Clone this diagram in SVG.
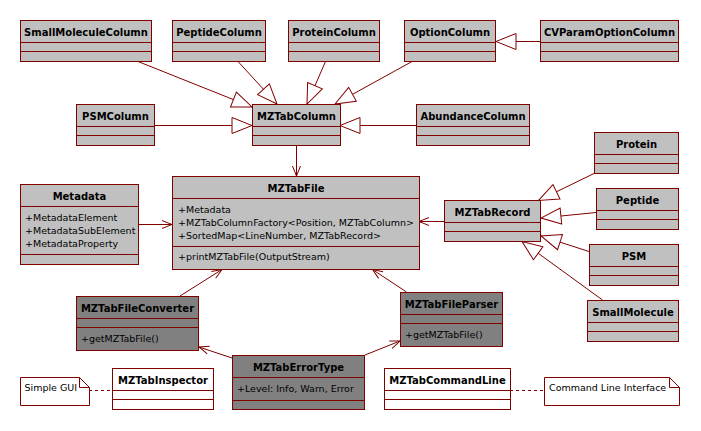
<svg xmlns="http://www.w3.org/2000/svg" width="701" height="431" viewBox="0 0 701 431">
<style>
  .box { stroke: #800000; stroke-width: 1; }
  .lt { fill: #C0C0C0; }
  .dk { fill: #808080; }
  .wh { fill: #FFFFFF; }
  .sep { stroke: #800000; stroke-width: 1; fill: none; }
  .t { font-family: "DejaVu Sans", Verdana, sans-serif; font-weight: bold; font-size: 10px; fill: #000; text-anchor: middle; }
  .a { font-family: "DejaVu Sans", Verdana, sans-serif; font-size: 9.5px; fill: #000; }
  .c { stroke: #800000; stroke-width: 1; fill: none; }
  .gen { marker-end: url(#tri); }
  .dep { marker-end: url(#open); }
  .dash { stroke-dasharray: 3 3; }
</style>
<defs>
  <marker id="tri" markerUnits="userSpaceOnUse" markerWidth="24" markerHeight="20" viewBox="-2 -2 24 20" refX="20" refY="8" orient="auto">
    <path d="M0,0 L20,8 L0,16 Z" fill="#FFFFFF" stroke="#800000" stroke-width="1"/>
  </marker>
  <marker id="open" markerUnits="userSpaceOnUse" markerWidth="14" markerHeight="12" viewBox="-2 -2 14 12" refX="10" refY="4" orient="auto">
    <path d="M0,0 L10,4 L0,8" fill="none" stroke="#800000" stroke-width="1"/>
  </marker>
</defs>
<rect x="0" y="0" width="701" height="431" fill="#FFFFFF"/>

<g id="connectors">
  <path class="c gen" d="M138,61.5 L252,107"/>
  <path class="c gen" d="M238,61.5 L277,104"/>
  <path class="c gen" d="M325.5,61.5 L307,104"/>
  <path class="c gen" d="M412,61.5 L335,104"/>
  <path class="c gen" d="M540,41.5 L496,41.5"/>
  <path class="c gen" d="M154,125.5 L252,125.5"/>
  <path class="c gen" d="M416,125.5 L340,125.5"/>
  <path class="c dep" d="M296.5,145.5 L296.5,176"/>
  <path class="c dep" d="M138,224.5 L172,224.5"/>
  <path class="c dep" d="M444,221.5 L419,221.5"/>
  <path class="c gen" d="M594,173.5 L538.5,200.5"/>
  <path class="c gen" d="M596,212.5 L541,218"/>
  <path class="c gen" d="M589,251.5 L541,236"/>
  <path class="c gen" d="M602.5,300 L522,241.5"/>
  <path class="c dep" d="M180,296 L222,269.5"/>
  <path class="c dep" d="M406.5,292 L372.5,269.5"/>
  <path class="c dep" d="M232,358 L199,347"/>
  <path class="c dep" d="M365,355 L400,341"/>
  <path class="c dash" d="M89,390.5 L112,390.5"/>
  <path class="c dash" d="M510,390.5 L544,390.5"/>
</g>

<g id="SmallMoleculeColumn">
  <rect class="box lt" x="20.5" y="20.5" width="131" height="41"/>
  <path class="sep" d="M20.5,42.5 H151.5 M20.5,51.5 H151.5"/>
  <text class="t" x="86" y="35.5">SmallMoleculeColumn</text>
</g>
<g id="PeptideColumn">
  <rect class="box lt" x="172.5" y="20.5" width="93" height="41"/>
  <path class="sep" d="M172.5,42.5 H265.5 M172.5,51.5 H265.5"/>
  <text class="t" x="219" y="35.5">PeptideColumn</text>
</g>
<g id="ProteinColumn">
  <rect class="box lt" x="288.5" y="20.5" width="91" height="41"/>
  <path class="sep" d="M288.5,42.5 H379.5 M288.5,51.5 H379.5"/>
  <text class="t" x="334" y="35.5">ProteinColumn</text>
</g>
<g id="OptionColumn">
  <rect class="box lt" x="404.5" y="20.5" width="91" height="41"/>
  <path class="sep" d="M404.5,42.5 H495.5 M404.5,51.5 H495.5"/>
  <text class="t" x="450" y="35.5">OptionColumn</text>
</g>
<g id="CVParamOptionColumn">
  <rect class="box lt" x="540.5" y="20.5" width="138" height="41"/>
  <path class="sep" d="M540.5,42.5 H678.5 M540.5,51.5 H678.5"/>
  <text class="t" x="609.5" y="35.5">CVParamOptionColumn</text>
</g>
<g id="PSMColumn">
  <rect class="box lt" x="76.5" y="104.5" width="78" height="41"/>
  <path class="sep" d="M76.5,126.5 H154.5 M76.5,135.5 H154.5"/>
  <text class="t" x="115.5" y="119.5">PSMColumn</text>
</g>
<g id="MZTabColumn">
  <rect class="box lt" x="252.5" y="104.5" width="88" height="41"/>
  <path class="sep" d="M252.5,126.5 H340.5 M252.5,135.5 H340.5"/>
  <text class="t" x="296.5" y="119.5">MZTabColumn</text>
</g>
<g id="AbundanceColumn">
  <rect class="box lt" x="416.5" y="104.5" width="113" height="41"/>
  <path class="sep" d="M416.5,126.5 H529.5 M416.5,135.5 H529.5"/>
  <text class="t" x="473" y="119.5">AbundanceColumn</text>
</g>
<g id="Protein">
  <rect class="box lt" x="594.5" y="132.5" width="84" height="41"/>
  <path class="sep" d="M594.5,154.5 H678.5 M594.5,163.5 H678.5"/>
  <text class="t" x="636.5" y="147.5">Protein</text>
</g>
<g id="Peptide">
  <rect class="box lt" x="596.5" y="188.5" width="82" height="41"/>
  <path class="sep" d="M596.5,210.5 H678.5 M596.5,219.5 H678.5"/>
  <text class="t" x="637.5" y="203.5">Peptide</text>
</g>
<g id="PSM">
  <rect class="box lt" x="589.5" y="244.5" width="89" height="41"/>
  <path class="sep" d="M589.5,266.5 H678.5 M589.5,275.5 H678.5"/>
  <text class="t" x="634" y="259.5">PSM</text>
</g>
<g id="SmallMolecule">
  <rect class="box lt" x="587.5" y="300.5" width="91" height="41"/>
  <path class="sep" d="M587.5,322.5 H678.5 M587.5,331.5 H678.5"/>
  <text class="t" x="633" y="315.5">SmallMolecule</text>
</g>
<g id="MZTabRecord">
  <rect class="box lt" x="444.5" y="200.5" width="96" height="41"/>
  <path class="sep" d="M444.5,222.5 H540.5 M444.5,231.5 H540.5"/>
  <text class="t" x="492.5" y="215.5">MZTabRecord</text>
</g>
<g id="MZTabFile">
  <rect class="box lt" x="172.5" y="176.5" width="247" height="93"/>
  <path class="sep" d="M172.5,198.5 H419.5 M172.5,246.5 H419.5"/>
  <text class="t" x="296" y="191.5">MZTabFile</text>
  <text class="a" x="178" y="212.5">+Metadata</text>
  <text class="a" x="178" y="225.5">+MZTabColumnFactory&lt;Position, MZTabColumn&gt;</text>
  <text class="a" x="178" y="238.5">+SortedMap&lt;LineNumber, MZTabRecord&gt;</text>
  <text class="a" x="178" y="260">+printMZTabFile(OutputStream)</text>
</g>
<g id="Metadata">
  <rect class="box lt" x="20.5" y="184.5" width="118" height="80"/>
  <path class="sep" d="M20.5,206.5 H138.5 M20.5,254.5 H138.5"/>
  <text class="t" x="79.5" y="199.5">Metadata</text>
  <text class="a" x="25" y="220.5">+MetadataElement</text>
  <text class="a" x="25" y="233.5">+MetadataSubElement</text>
  <text class="a" x="25" y="246.5">+MetadataProperty</text>
</g>
<g id="MZTabFileConverter">
  <rect class="box dk" x="76.5" y="296.5" width="122" height="54"/>
  <path class="sep" d="M76.5,318.5 H198.5 M76.5,327.5 H198.5"/>
  <text class="t" x="137.5" y="311.5">MZTabFileConverter</text>
  <text class="a" x="81" y="341.5">+getMZTabFile()</text>
</g>
<g id="MZTabFileParser">
  <rect class="box dk" x="400.5" y="292.5" width="102" height="54"/>
  <path class="sep" d="M400.5,314.5 H502.5 M400.5,323.5 H502.5"/>
  <text class="t" x="451.5" y="307.5">MZTabFileParser</text>
  <text class="a" x="405" y="337.5">+getMZTabFile()</text>
</g>
<g id="MZTabErrorType">
  <rect class="box dk" x="232.5" y="355.5" width="132" height="54"/>
  <path class="sep" d="M232.5,377.5 H364.5 M232.5,400.5 H364.5"/>
  <text class="t" x="298.5" y="370.5">MZTabErrorType</text>
  <text class="a" x="237" y="391.5">+Level: Info, Warn, Error</text>
</g>
<g id="MZTabInspector">
  <rect class="box wh" x="112.5" y="368.5" width="101" height="41"/>
  <path class="sep" d="M112.5,390.5 H213.5 M112.5,399.5 H213.5"/>
  <text class="t" x="163" y="383.5">MZTabInspector</text>
</g>
<g id="MZTabCommandLine">
  <rect class="box wh" x="384.5" y="368.5" width="126" height="41"/>
  <path class="sep" d="M384.5,390.5 H510.5 M384.5,399.5 H510.5"/>
  <text class="t" x="447.5" y="383.5">MZTabCommandLine</text>
</g>
<g id="SimpleGUINote">
  <path class="box wh" d="M20.5,377.5 H79.5 L89.5,387.5 V405.5 H20.5 Z"/>
  <path class="sep" d="M79.5,377.5 V387.5 H89.5"/>
  <text class="a" x="24.5" y="391">Simple GUI</text>
</g>
<g id="CommandLineInterfaceNote">
  <path class="box wh" d="M544.5,377.5 H669.5 L679.5,387.5 V405.5 H544.5 Z"/>
  <path class="sep" d="M669.5,377.5 V387.5 H679.5"/>
  <text class="a" x="549" y="391">Command Line Interface</text>
</g>
</svg>
